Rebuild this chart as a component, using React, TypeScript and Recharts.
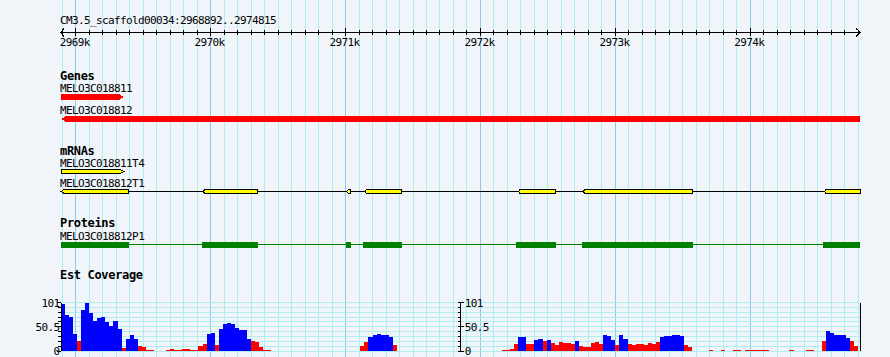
import React from "react";
import {
  ComposedChart,
  BarChart,
  Bar,
  Area,
  XAxis,
  YAxis,
  CartesianGrid,
  LabelList,
} from "recharts";

// view window (bp)
const VIEW_START = 2968892;
const VIEW_END = 2974815;
const VIEW_MID = 2971853.5;

const W = 890;
const H = 357;
const PLOT_LEFT = 61.1;
const PLOT_RIGHT = 860.3;
const MID_X = 460.7;

const BG = "#f1f5fa";
const GRID_MINOR = "#afeeee";
const GRID_MAJOR = "#87ceeb";
const MONO = '"DejaVu Sans Mono", monospace';

const rulerTitle = "CM3.5_scaffold00034:2968892..2974815";
const majorTicks = [2969000, 2970000, 2971000, 2972000, 2973000, 2974000];
const majorLabels = ["2969k", "2970k", "2971k", "2972k", "2973k", "2974k"];
const minorTicks = Array.from({ length: 60 }, (_, i) => 2968900 + i * 100);

const trackTitles = ["Genes", "mRNAs", "Proteins", "Est Coverage"];

// genes
const geneNames = ["MELO3C018811", "MELO3C018812"];
const geneStarts = [2968892, 2968892];
const geneEnds = [2969359, 2974815];
const geneStrands = [1, -1];

// mRNAs
const mrnaNames = ["MELO3C018811T4", "MELO3C018812T1"];
const mrnaStarts = [2968892, 2968892];
const mrnaEnds = [2969359, 2974815];
const mrnaStrands = [1, -1];
const t4Exons = [[2968892, 2969359]];
const t1Exons = [
  [2968892, 2969395],
  [2969946, 2970349],
  [2971009, 2971038],
  [2971144, 2971416],
  [2972281, 2972558],
  [2972762, 2973573],
  [2974549, 2974815],
];

// proteins
const proteinNames = ["MELO3C018812P1"];
const p1Cds = [
  [2968892, 2969395],
  [2969936, 2970349],
  [2971004, 2971041],
  [2971132, 2971416],
  [2972264, 2972558],
  [2972753, 2973573],
  [2974537, 2974815],
];

// EST coverage, 30bp bins from 2968890
const EST_FIRST = 2968890;
const EST_BIN = 30;
const estDepth = [
  97, 75, 70, 35, 20, 85, 100, 80, 62, 68,
  70, 60, 52, 63, 45, 6, 25, 34, 25, 11,
  9, 2, 2, 0, 0, 0, 2, 5, 2, 2,
  5, 4, 3, 3, 10, 14, 35, 38, 13, 45,
  56, 58, 57, 48, 44, 43, 25, 20, 18, 9,
  2, 2, 0, 0, 0, 0, 0, 0, 0, 0,
  0, 0, 0, 0, 0, 0, 0, 0, 0, 0,
  0, 0, 0, 0, 10, 18, 30, 33, 35, 34,
  33, 30, 12, 0, 0, 0, 0, 0, 0, 0,
  0, 0, 0, 0, 0, 0, 0, 0, 0, 0,
  0, 0, 0, 0, 0, 0, 0, 0, 0, 2,
  2, 5, 14, 30, 30, 15, 14, 23, 24, 20,
  22, 16, 13, 18, 17, 16, 15, 20, 11, 9,
  8, 17, 18, 15, 33, 32, 22, 13, 33, 26,
  14, 12, 14, 15, 13, 16, 14, 18, 30, 32,
  31, 33, 34, 32, 13, 8, 0, 0, 0, 0,
  2, 0, 0, 2, 0, 0, 2, 2, 0, 2,
  2, 2, 2, 2, 2, 0, 0, 0, 0, 0,
  3, 0, 0, 0, 2, 2, 0, 0, 20, 42,
  38, 33, 34, 34, 28, 20, 10, 0,
];
// b = blue (in exon), r = red
const estColor = [
  "bbbbrbbbbb", "bbbbbrbbbr", "rrrrrrrrrr", "rrrrrrbbrb", "bbbbbbbrrr",
  "rrrrrrrrrr", "rrrrrrrrrr", "rrrrrrbbbb", "bbrrrrrrrr", "rrrrrrrrrr",
  "rrrrrrrrrr", "rrrbbrrbbr", "brrrrrrbrr", "rrrrbbbrbb", "rrrrrrrrbb",
  "bbbbrrrrrr", "rrrrrrrrrr", "rrrrrrrrrr", "rrrrrrrrrb", "bbbbbrrr",
].join("");

const covTicks = [0, 10.1, 20.2, 30.3, 40.4, 50.5, 60.6, 70.7, 80.8, 90.9, 101];
const covLabelTicks = [0, 50.5, 101];
const covLabels = ["0", "50.5", "101"];

const viewEnds = [{ pos: VIEW_START }, { pos: VIEW_END }];

const geneRows = geneNames.map((name, i) => ({
  name,
  range: [geneStarts[i], geneEnds[i]],
  strand: geneStrands[i],
}));

const mrnaExons = [t4Exons, t1Exons];
const mrnaRows = mrnaNames.map((name, i) => ({
  name,
  range: [mrnaStarts[i], mrnaEnds[i]],
  strand: mrnaStrands[i],
  exons: mrnaExons[i],
  kind: "mrna",
}));

const proteinRows = proteinNames.map((name) => ({
  name,
  range: [p1Cds[0][0], p1Cds[p1Cds.length - 1][1]],
  strand: -1,
  exons: p1Cds,
  kind: "cds",
}));

const estRows = estDepth.map((d, i) => ({
  pos: EST_FIRST + i * EST_BIN,
  blue: estColor[i] === "b" ? d : 0,
  red: estColor[i] === "r" ? d : 0,
}));
estRows.push({ pos: EST_FIRST + estDepth.length * EST_BIN, blue: 0, red: 0 });

// pixel-ish font: 11px mono squeezed to a 6px cell
const smallFont = { fontFamily: MONO, fontSize: 11, letterSpacing: -0.62 };
const boldFont = { fontFamily: MONO, fontSize: 12, fontWeight: "bold", letterSpacing: -0.33 };

// full-height grid line drawn from the axis at the bottom up to the top edge
function GridTick(props: any) {
  const { x, y, payload } = props;
  const major = majorTicks.includes(payload.value);
  return <line x1={x} x2={x} y1={0} y2={y + 1} stroke={major ? GRID_MAJOR : GRID_MINOR} />;
}

function RulerTick(props: any) {
  const { x, y, payload } = props;
  const idx = majorTicks.indexOf(payload.value);
  const major = idx >= 0;
  return (
    <g>
      <line
        x1={x}
        x2={x}
        y1={y - (major ? 4.5 : 2.5)}
        y2={y + (major ? 3.5 : 2.5)}
        stroke="#000"
      />
      {major && (
        <text x={x - 1} y={y + 13.5} textAnchor="middle" {...smallFont} fill="#000">
          {majorLabels[idx]}
        </text>
      )}
    </g>
  );
}

function CovTick(props: any) {
  const { x, y, payload, side } = props;
  const idx = covLabelTicks.indexOf(payload.value);
  const major = idx >= 0;
  if (side === "left") {
    return (
      <g>
        <line x1={x - (major ? 4 : 3)} x2={x} y1={y} y2={y} stroke="#000" />
        {major && (
          <text x={x - 1.5} y={y + 4} textAnchor="end" {...smallFont} fill="#000">
            {covLabels[idx]}
          </text>
        )}
      </g>
    );
  }
  return (
    <g>
      <line x1={x - 3} x2={x + (major ? 3 : 0)} y1={y} y2={y} stroke="#000" />
      {major && (
        <text x={x + 4} y={y + 4} textAnchor="start" {...smallFont} fill="#000">
          {covLabels[idx]}
        </text>
      )}
    </g>
  );
}

function NameLabel(props: any) {
  const { x, y, value } = props;
  return (
    <text x={x - 1} y={y - 2.5} {...smallFont} fill="#000">
      {value}
    </text>
  );
}

function GeneShape(props: any) {
  const { x, y, width, height, payload, fill } = props;
  const tip = 4;
  const x1 = x + width;
  const mid = y + height / 2;
  const b = y + height;
  const pts =
    payload.strand > 0
      ? `${x},${y} ${x1 - tip},${y} ${x1 - tip},${y + 1} ${x1},${mid} ${x1 - tip},${b - 1} ${x1 - tip},${b} ${x},${b}`
      : `${x1},${y} ${x + tip},${y} ${x + tip},${y + 1} ${x},${mid} ${x + tip},${b - 1} ${x + tip},${b} ${x1},${b}`;
  return <polygon points={pts} fill={fill} />;
}

function TranscriptShape(props: any) {
  const { x, y, width, height, payload } = props;
  const [s, e] = payload.range;
  const px = (bp: number) => x + ((bp - s) / (e - s)) * width;
  const lineY = y + Math.floor((height - 1) / 2) + 0.5;
  const mid = y + height / 2;
  const isCds = payload.kind === "cds";
  const exons = payload.exons;
  return (
    <g>
      <line x1={x} x2={x + width} y1={lineY} y2={lineY} stroke={isCds ? "#008000" : "#000"} />
      {exons.map((ex: number[], i: number) => {
        const a = px(ex[0]);
        const b = px(ex[1]);
        if (isCds) {
          return <rect key={i} x={a} y={y} width={b - a} height={height} fill="#008000" />;
        }
        const t = y + 0.5;
        const bt = y + height - 0.5;
        let pts;
        if (payload.strand > 0 && i === exons.length - 1) {
          pts = `${a},${t} ${b - 4},${t} ${b},${mid} ${b - 4},${bt} ${a},${bt}`;
        } else if (payload.strand < 0) {
          const n = i === 0 ? 3 : 1.5;
          pts = `${a + n},${t} ${b},${t} ${b},${bt} ${a + n},${bt} ${a},${mid}`;
        } else {
          pts = `${a},${t} ${b},${t} ${b},${bt} ${a},${bt}`;
        }
        return <polygon key={i} points={pts} fill="#ffff00" stroke="#000" strokeWidth={1} />;
      })}
    </g>
  );
}

const LABEL_ROOM = 20;
const trackMargin = { top: 0, bottom: 0, left: PLOT_LEFT, right: W - PLOT_RIGHT };

function Track({ top, height, rows, barSize, shape, fill }: any) {
  return (
    <div style={{ position: "absolute", left: 0, top: top - LABEL_ROOM }}>
      <BarChart
        layout="vertical"
        width={W}
        height={height + LABEL_ROOM}
        data={rows}
        margin={{ ...trackMargin, top: LABEL_ROOM }}
        barCategoryGap={0}
      >
        <XAxis type="number" domain={[VIEW_START, VIEW_END]} hide />
        <YAxis type="category" dataKey="name" hide />
        <Bar dataKey="range" barSize={barSize} fill={fill} shape={shape} isAnimationActive={false}>
          <LabelList dataKey="name" content={NameLabel} />
        </Bar>
      </BarChart>
    </div>
  );
}

export default function App() {
  return (
    <div
      style={{
        position: "absolute",
        left: 0,
        top: 0,
        width: W,
        height: H,
        background: BG,
        overflow: "hidden",
      }}
    >
      <style>{"svg line, svg rect, svg path, svg polygon, svg polyline { shape-rendering: crispEdges; }"}</style>

      {/* background grid: every 100bp, darker every 1kb */}
      <div style={{ position: "absolute", left: 0, top: 0 }}>
        <ComposedChart width={W} height={H} data={viewEnds} margin={trackMargin}>
          <XAxis
            type="number"
            dataKey="pos"
            domain={[VIEW_START, VIEW_END]}
            ticks={minorTicks}
            interval={0}
            height={1}
            tickSize={0}
            tickMargin={0}
            tickLine={false}
            axisLine={false}
            tick={(p: any) => <GridTick {...p} />}
          />
          <YAxis hide domain={[0, 1]} />
        </ComposedChart>
      </div>

      {/* ruler */}
      <div style={{ position: "absolute", left: 0, top: 0 }}>
        <ComposedChart width={W} height={60} data={viewEnds} margin={trackMargin}>
          <XAxis
            type="number"
            dataKey="pos"
            domain={[VIEW_START, VIEW_END]}
            ticks={minorTicks}
            interval={0}
            tickSize={0}
            tickMargin={0}
            tickLine={false}
            axisLine={{ stroke: "#000" }}
            height={27.5}
            tick={(p: any) => <RulerTick {...p} />}
          />
          <YAxis hide domain={[0, 1]} />
        </ComposedChart>
      </div>

      <Track top={86} height={44} rows={geneRows} barSize={6} fill="#ff0000" shape={GeneShape} />
      <Track top={161} height={40} rows={mrnaRows} barSize={5} fill="#ffff00" shape={TranscriptShape} />
      <Track top={235} height={20} rows={proteinRows} barSize={6} fill="#008000" shape={TranscriptShape} />

      {/* coverage, left half */}
      <div style={{ position: "absolute", left: 0, top: 290 }}>
        <ComposedChart
          width={W}
          height={67}
          data={estRows}
          margin={{ top: 12.5, bottom: 6, left: PLOT_LEFT - 40, right: W - MID_X }}
        >
          <CartesianGrid vertical={false} stroke={GRID_MINOR} />
          <XAxis type="number" dataKey="pos" domain={[VIEW_START, VIEW_MID]} allowDataOverflow hide />
          <YAxis
            width={40}
            domain={[0, 101]}
            ticks={covTicks}
            interval={0}
            tickSize={0}
            tickMargin={0}
            tickLine={false}
            axisLine={{ stroke: "#000" }}
            tick={(p: any) => <CovTick {...p} side="left" />}
          />
          <Area type="stepAfter" dataKey="red" stroke="none" fill="#ff0000" fillOpacity={1} isAnimationActive={false} />
          <Area type="stepAfter" dataKey="blue" stroke="none" fill="#0000ff" fillOpacity={1} isAnimationActive={false} />
        </ComposedChart>
      </div>

      {/* coverage, right half */}
      <div style={{ position: "absolute", left: 0, top: 290 }}>
        <ComposedChart
          width={W}
          height={67}
          data={estRows}
          margin={{ top: 12.5, bottom: 6, left: MID_X - 40, right: W - PLOT_RIGHT - 29 }}
        >
          <CartesianGrid vertical={false} stroke={GRID_MINOR} yAxisId="m" />
          <XAxis type="number" dataKey="pos" domain={[VIEW_MID, VIEW_END]} allowDataOverflow hide />
          <YAxis
            yAxisId="m"
            orientation="left"
            width={40}
            domain={[0, 101]}
            ticks={covTicks}
            interval={0}
            tickSize={0}
            tickMargin={0}
            tickLine={false}
            axisLine={{ stroke: "#000" }}
            tick={(p: any) => <CovTick {...p} side="mid" />}
          />
          <YAxis
            yAxisId="r"
            orientation="right"
            width={29}
            domain={[0, 101]}
            ticks={covTicks}
            interval={0}
            tickSize={0}
            tickMargin={0}
            tickLine={false}
            axisLine={{ stroke: "#000" }}
            tick={(p: any) => <CovTick {...p} side="right" />}
          />
          <Area yAxisId="m" type="stepAfter" dataKey="red" stroke="none" fill="#ff0000" fillOpacity={1} isAnimationActive={false} />
          <Area yAxisId="m" type="stepAfter" dataKey="blue" stroke="none" fill="#0000ff" fillOpacity={1} isAnimationActive={false} />
        </ComposedChart>
      </div>

      {/* titles and ruler arrows */}
      <svg width={W} height={H} style={{ position: "absolute", left: 0, top: 0, pointerEvents: "none" }}>
        <text x={60} y={24} {...smallFont} fill="#000">
          {rulerTitle}
        </text>
        <polyline points="64,28.5 60.5,32.5 64,36.5" fill="none" stroke="#000" />
        <line x1={60} x2={62} y1={32.5} y2={32.5} stroke="#000" />
        <polyline points="856,28.5 860.5,32.5 856,36.5" fill="none" stroke="#000" />
        {trackTitles.map((t, i) => (
          <text key={t} x={60} y={[80, 155, 227.3, 279][i]} {...boldFont} fill="#000">
            {t}
          </text>
        ))}
      </svg>
    </div>
  );
}
